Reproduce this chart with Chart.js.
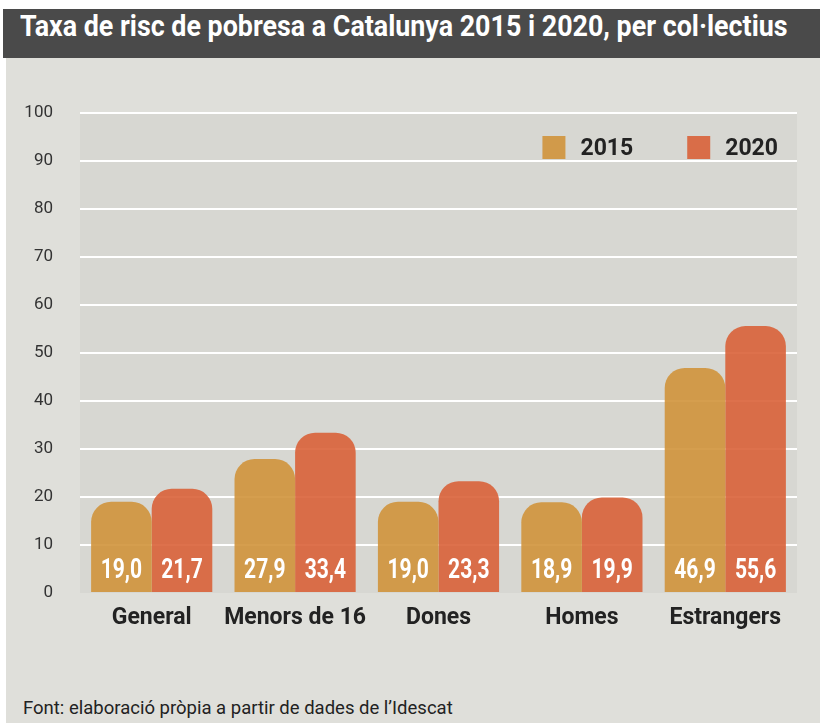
<!DOCTYPE html>
<html>
<head>
<meta charset="utf-8">
<script src="https://cdn.jsdelivr.net/npm/chart.js@4.4.1/dist/chart.umd.min.js"></script>
<style>
  body { margin: 0; background: #ffffff; width: 820px; height: 723px; overflow: hidden; position: relative; font-family: Roboto, sans-serif; }
  #card { position: absolute; left: 6px; top: 58px; width: 814px; height: 665px; background: #dfdfda; }
  #titleBar { position: absolute; left: 3px; top: 9px; width: 817px; height: 49px; background: #4a4a4a; }
  #title { position: absolute; left: 17px; top: 0; line-height: 49px; font: bold 29px Roboto; color: #ffffff; white-space: nowrap; transform-origin: left center; }
  #chartBox { position: absolute; left: 6px; top: 58px; width: 814px; height: 585px; }
  #source { position: absolute; left: 23px; top: 697px; line-height: 22px; font-size: 18.5px; color: #222222; white-space: nowrap; }
</style>
</head>
<body>
<div id="card"></div>
<div id="titleBar"><span id="title">Taxa de risc de pobresa a Catalunya 2015 i 2020, per col·lectius</span></div>
<div id="chartBox"><canvas id="barChart"></canvas></div>
<div id="source">Font: elaboració pròpia a partir de dades de l’Idescat</div>
<script>
// dades
const categories = ["General", "Menors de 16", "Dones", "Homes", "Estrangers"];
const years = ["2015", "2020"];
const values2015 = [19.0, 27.9, 19.0, 18.9, 46.9];
const values2020 = [21.7, 33.4, 23.3, 19.9, 55.6];
const yMax = 100;
const yStep = 10;

// titol comprimit (fa de "condensed")
const title = document.getElementById("title");
title.style.transform = "scaleX(" + (768 / title.offsetWidth) + ")";

// fons de la zona del grafic
const plotBackground = {
    id: "plotBackground",
    beforeDraw(chart) {
        const { ctx, chartArea } = chart;
        ctx.save();
        ctx.fillStyle = "#d7d7d2";
        ctx.fillRect(chartArea.left, chartArea.top, chartArea.right - chartArea.left, chartArea.bottom - chartArea.top);
        ctx.restore();
    }
};

// valors dins les barres
const valueLabels = {
    id: "valueLabels",
    afterDatasetsDraw(chart) {
        const { ctx, chartArea } = chart;
        ctx.save();
        ctx.fillStyle = "#ffffff";
        ctx.font = "bold 27px Roboto";
        ctx.textAlign = "center";
        ctx.textBaseline = "alphabetic";
        chart.data.datasets.forEach((ds, i) => {
            chart.getDatasetMeta(i).data.forEach((bar, j) => {
                const txt = ds.data[j].toFixed(1).replace(".", ",");
                ctx.save();
                ctx.translate(bar.x, chartArea.bottom - 15);
                ctx.scale(0.78, 1);
                ctx.fillText(txt, 0, 0);
                ctx.restore();
            });
        });
        ctx.restore();
    }
};

// llegenda dins la zona del grafic
const insideLegend = {
    id: "insideLegend",
    afterDraw(chart) {
        const { ctx, chartArea } = chart;
        const box = 23;
        ctx.save();
        ctx.font = "bold 23px Roboto";
        ctx.textBaseline = "alphabetic";
        let x = chartArea.right - 19;
        const top = chartArea.top + 23;
        for (let i = chart.data.datasets.length - 1; i >= 0; i--) {
            const ds = chart.data.datasets[i];
            const w = ctx.measureText(ds.label).width;
            const textX = x - w;
            const boxX = textX - 15 - box;
            ctx.fillStyle = ds.backgroundColor;
            ctx.fillRect(boxX, top, box, box);
            ctx.fillStyle = "#222222";
            ctx.fillText(ds.label, textX, top + 19);
            x = boxX - 54;
        }
        ctx.restore();
    }
};

const ctx = document.getElementById("barChart");
new Chart(ctx, {
    type: "bar",
    data: {
        labels: categories,
        datasets: [
            { label: years[0], data: values2015, backgroundColor: "rgba(208,147,59,0.9)" },
            { label: years[1], data: values2020, backgroundColor: "rgba(217,98,57,0.9)" }
        ]
    },
    options: {
        responsive: true,
        maintainAspectRatio: false,
        animation: false,
        layout: { padding: { top: 55, right: 23, left: 0, bottom: 0 } },
        datasets: {
            bar: {
                categoryPercentage: 0.845,
                barPercentage: 1,
                borderRadius: { topLeft: 20, topRight: 20, bottomLeft: 0, bottomRight: 0 },
                borderSkipped: "bottom"
            }
        },
        plugins: {
            legend: { display: false },
            tooltip: { enabled: false }
        },
        scales: {
            x: {
                grid: { display: false },
                border: { display: false },
                ticks: {
                    color: "#222222",
                    font: { family: "Roboto", size: 23, weight: "bold" },
                    padding: 3,
                    maxRotation: 0,
                    minRotation: 0,
                    autoSkip: false
                },
                afterFit(scale) { scale.height = 50; }
            },
            y: {
                min: 0,
                max: yMax,
                grid: {
                    color: c => c.tick.value === 0 ? "rgba(0,0,0,0)" : "#ffffff",
                    lineWidth: 2,
                    drawTicks: false
                },
                border: { display: false },
                ticks: { stepSize: yStep, color: "#333333", font: { family: "Roboto", size: 17 }, padding: 27 },
                afterFit(scale) { scale.width = 74; }
            }
        }
    },
    plugins: [plotBackground, valueLabels, insideLegend]
});
</script>
</body>
</html>
